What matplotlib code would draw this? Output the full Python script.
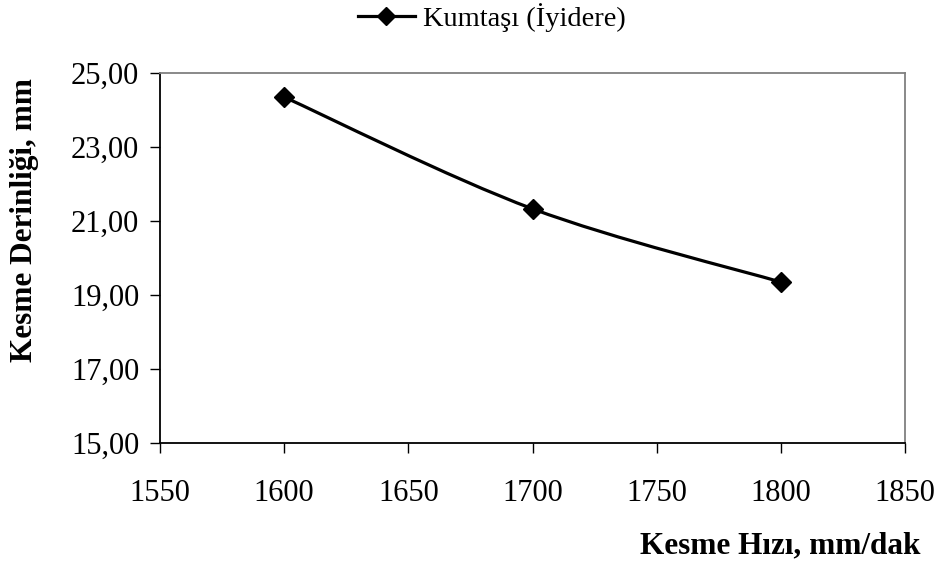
import numpy as np
import matplotlib.pyplot as plt
from matplotlib.path import Path
from matplotlib.patches import PathPatch
from matplotlib.lines import Line2D

# data
speed = [1600, 1700, 1800]          # Kesme Hızı, mm/dak
depth = [24.35, 21.33, 19.35]       # Kesme Derinliği, mm
series_name = 'Kumtaşı (İyidere)'
xticks = [1550, 1600, 1650, 1700, 1750, 1800, 1850]
yticks = [15, 17, 19, 21, 23, 25]

plt.rcParams['font.family'] = ['Liberation Serif', 'DejaVu Serif']

fig = plt.figure(figsize=(9.38, 5.66), dpi=100)
ax = fig.add_axes([0.1706, 0.2173, 0.7942, 0.6537])
ax.set_xlim(1550, 1850)
ax.set_ylim(15, 25)


def smooth_path(ax, xs, ys):
    # Excel-like smoothed line: cubic bezier through points, computed in axes space
    to_ax = ax.transData + ax.transAxes.inverted()
    pts = to_ax.transform(np.column_stack([xs, ys]))
    n = len(pts)
    verts = [pts[0]]
    codes = [Path.MOVETO]
    for i in range(n - 1):
        p_prev = pts[max(i - 1, 0)]
        p_next2 = pts[min(i + 2, n - 1)]
        c1 = pts[i] + (pts[i + 1] - p_prev) / 6
        c2 = pts[i + 1] - (p_next2 - pts[i]) / 6
        verts += [c1, c2, pts[i + 1]]
        codes += [Path.CURVE4] * 3
    return Path(verts, codes)


path = smooth_path(ax, speed, depth)
ax.add_patch(PathPatch(path, transform=ax.transAxes, fill=False,
                       edgecolor='black', linewidth=2.3, zorder=3))
ax.plot(speed, depth, linestyle='none', marker='D', markersize=10,
        color='black', zorder=4)

ax.set_xticks(xticks)
ax.set_yticks(yticks)
ax.set_yticklabels([f'{v:.2f}'.replace('.', ',') for v in yticks])
ax.tick_params(direction='out', length=7, width=1, labelsize=22, pad=8)
ax.tick_params(axis='x', pad=19)

for side in ['left', 'bottom']:
    ax.spines[side].set_color('black')
    ax.spines[side].set_linewidth(1.3)
for side in ['top', 'right']:
    ax.spines[side].set_color('#808080')
    ax.spines[side].set_linewidth(1.3)

fig.text(0.026, 1 - 220 / 566, 'Kesme Derinliği, mm', fontsize=22.5,
         fontweight='bold', rotation=90, ha='center', va='center')
fig.text(0.981, 13 / 566, 'Kesme Hızı, mm/dak', fontsize=22.5, fontweight='bold',
         ha='right', va='baseline')

handle = Line2D([], [], color='black', linewidth=2.3, marker='D', markersize=9)
fig.legend([handle], [series_name], loc='center left',
           bbox_to_anchor=(358 / 938, 1 - 18 / 566), frameon=False,
           fontsize=20.5, handlelength=2.0, handletextpad=0.3,
           borderpad=0, borderaxespad=0)

fig.savefig('out.png', dpi=100)
